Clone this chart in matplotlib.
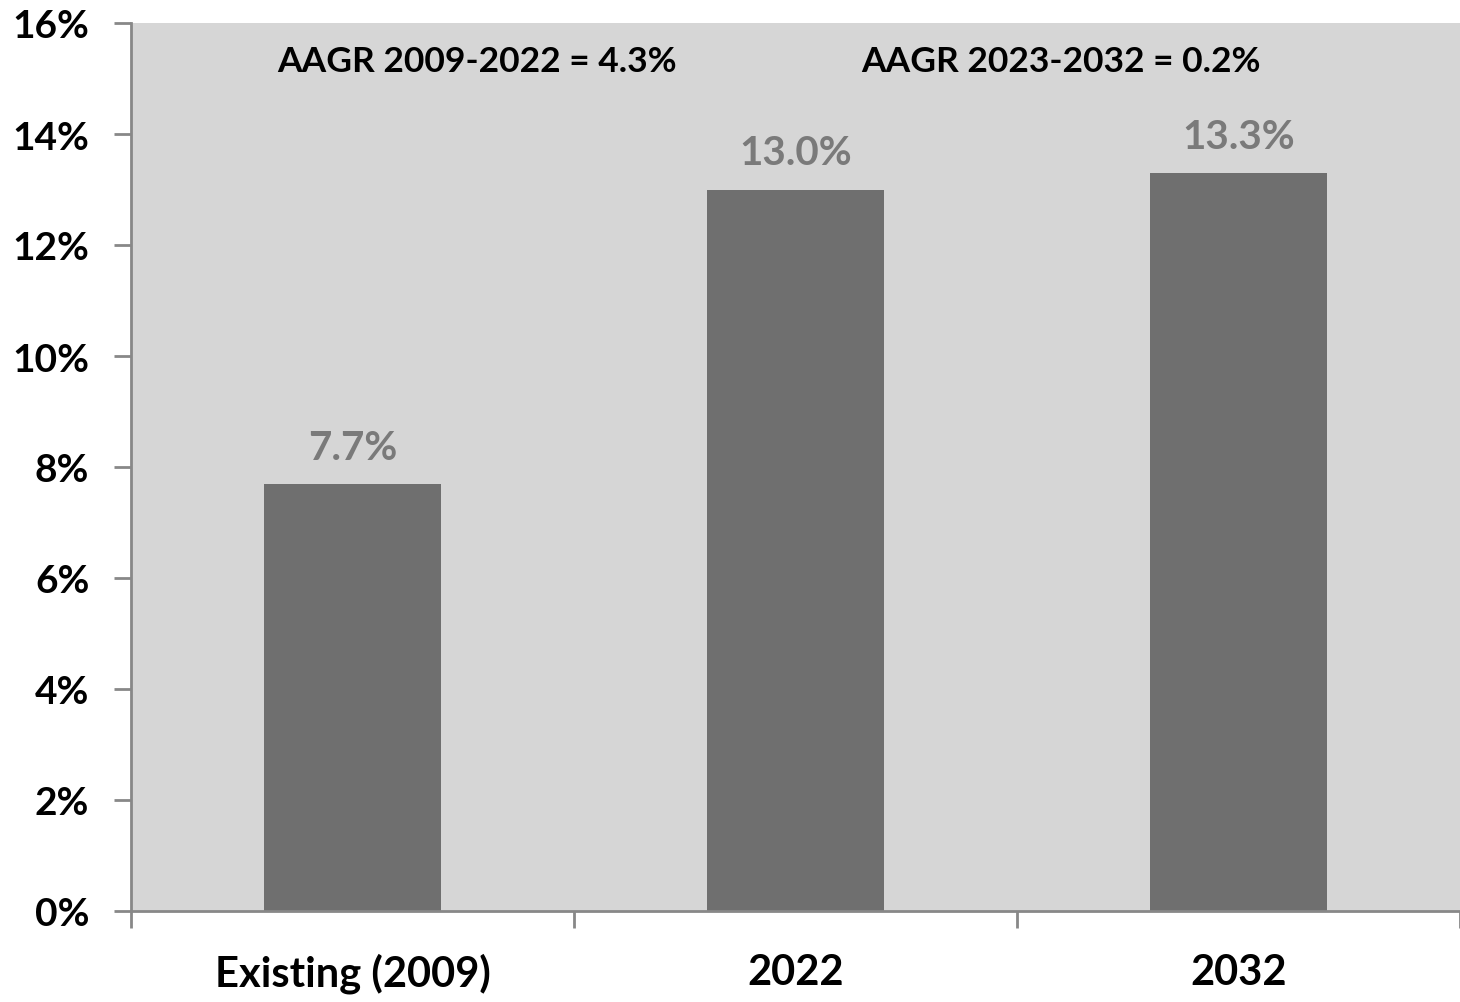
import matplotlib
matplotlib.use("Agg")
import matplotlib.pyplot as plt
import numpy as np

# share of total (percent)
categories = ["Existing (2009)", "2022", "2032"]
shares = [7.7, 13.0, 13.3]
growth_notes = ["AAGR 2009-2022 = 4.3%", "AAGR 2023-2032 = 0.2%"]
yticks = [0, 2, 4, 6, 8, 10, 12, 14, 16]

plt.rcParams['font.family'] = ['Lato', 'DejaVu Sans']
plt.rcParams['font.weight'] = 'bold'

fig = plt.figure(figsize=(14.6, 10.03), dpi=100)
ax = fig.add_axes([131/1460, 1 - 912/1003, 1329/1460, 888/1003])
ax.set_facecolor('#d6d6d6')

x = np.arange(len(categories))
ax.bar(x, shares, width=0.4, color='#6f6f6f', zorder=2)

for xi, v in zip(x, shares):
    ax.text(xi, v + 0.66, "%.1f%%" % v, ha='center', va='center',
            fontsize=29, fontweight='bold', color='#7a7a7a')

# growth rate notes along the top
ax.text(0.28, 15.32, growth_notes[0], ha='center', va='center',
        fontsize=25.5, fontweight='bold', color='black')
ax.text(1.6, 15.32, growth_notes[1], ha='center', va='center',
        fontsize=25.5, fontweight='bold', color='black')

ax.set_xlim(-0.5, 2.5)
ax.set_ylim(0, 16)
ax.set_yticks(yticks)
ax.set_yticklabels(["%d%%" % t for t in yticks], fontsize=28, fontweight='bold')

ax.set_xticks([-0.5, 0.5, 1.5, 2.5])
ax.set_xticklabels([])
ax.set_xticks(x, minor=True)
ax.set_xticklabels(categories, minor=True, fontsize=30, fontweight='bold')
ax.tick_params(axis='x', which='minor', length=0, pad=30)
ax.tick_params(axis='x', which='major', length=12, width=2, color='#888888')
ax.tick_params(axis='y', length=12, width=2, color='#888888', pad=18)

for side in ['top', 'right']:
    ax.spines[side].set_visible(False)
for side in ['left', 'bottom']:
    ax.spines[side].set_color('#888888')
    ax.spines[side].set_linewidth(2)

fig.savefig("out.png", dpi=100, facecolor='white')
